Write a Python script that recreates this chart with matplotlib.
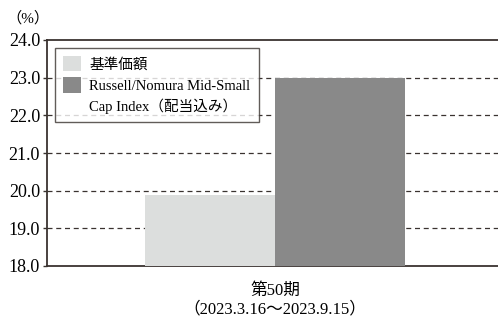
import matplotlib.pyplot as plt
from matplotlib.patches import Patch

# Datos
period_label = "第50期\n（2023.3.16～2023.9.15）"
series_names = ["基準価額", "Russell/Nomura Mid-Small", "Cap Index（配当込み）"]
series_values = [19.88, 23.0]
yticks = [18.0, 19.0, 20.0, 21.0, 22.0, 23.0, 24.0]

# Colores
hex_fund = '#dcdedd'
hex_index = '#898989'
hex_lines = '#3a3330'

plt.rcParams['font.family'] = ['Liberation Serif', 'Noto Sans CJK JP']

fig = plt.figure(figsize=(4.98, 3.19), dpi=100)
ax = fig.add_axes([47 / 498, 1 - 266 / 319, 451 / 498, 226 / 319])

ax.bar(-0.5, series_values[0], width=1.0, bottom=0, color=hex_fund, zorder=3)
ax.bar(0.5, series_values[1], width=1.0, bottom=0, color=hex_index, zorder=3)

ax.set_ylim(18.0, 24.0)
ax.set_xlim(-1.754, 1.715)
ax.set_yticks(yticks)
ax.set_yticklabels([f"{v:.1f}" for v in yticks], fontsize=13)
ax.set_xticks([0])
ax.set_xticklabels([period_label], fontsize=12, linespacing=1.2)
ax.tick_params(axis='x', length=0, pad=12)
ax.tick_params(axis='y', length=3, width=1, color=hex_lines, pad=2)

# Cuadrícula punteada
for v in yticks[1:-1]:
    ax.axhline(v, color=hex_lines, linestyle=(0, (4, 3)), linewidth=0.9, zorder=1)

ax.spines['right'].set_visible(False)
for s in ['left', 'bottom', 'top']:
    ax.spines[s].set_color(hex_lines)
    ax.spines[s].set_linewidth(1.3)

fig.text(6 / 498, 1 - 18 / 319, "（%）", fontsize=11, va='center', ha='left')

# Leyenda (la segunda línea del índice sin parche)
handles = [Patch(facecolor=hex_fund, label=series_names[0]),
           Patch(facecolor=hex_index, label=series_names[1]),
           Patch(facecolor='none', edgecolor='none', label=series_names[2])]
leg = ax.legend(handles=handles, loc='upper left', bbox_to_anchor=(0.018, 0.965),
                fontsize=10.5, frameon=True, fancybox=False, borderpad=0.55,
                handlelength=1.25, handleheight=1.25, handletextpad=0.55,
                labelspacing=0.4, borderaxespad=0)
leg.get_frame().set_edgecolor(hex_lines)
leg.get_frame().set_linewidth(1.0)

plt.savefig("out.png", dpi=100)
